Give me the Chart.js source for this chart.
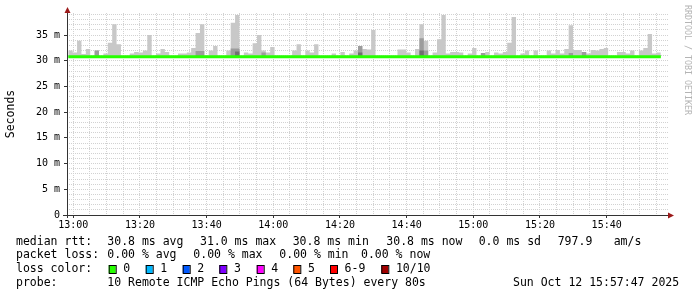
<!DOCTYPE html>
<html>
<head>
<meta charset="utf-8">
<script src="https://cdn.jsdelivr.net/npm/chart.js@4.4.0/dist/chart.umd.min.js"></script>
<style>
  html, body { margin: 0; padding: 0; background: #fff; }
</style>
</head>
<body>
<canvas id="smokeChart" width="697" height="297"></canvas>
<script>
// time window and step
const startTime = "12:58:30";
const stepSeconds = 79;
const viewFrom = "12:58:07";
const viewTo = "15:58:24";

// max ping per step (ms), light smoke
const pingMax = [
  32.0, 31.6, 33.9, 31.3, 32.3, 31.0, 32.0, 31.0, 31.4, 33.5,
  37.1, 33.2, 31.0, 31.0, 31.4, 31.7, 31.6, 32.0, 35.0, 31.0,
  31.4, 32.3, 31.7, 31.0, 31.0, 31.4, 31.4, 31.6, 32.5, 35.4,
  37.1, 31.0, 32.0, 32.9, 31.0, 31.0, 32.0, 37.4, 38.9, 31.0,
  31.6, 31.4, 33.4, 35.0, 32.0, 31.6, 32.7, 31.0, 31.0, 31.0,
  31.0, 32.0, 33.2, 31.0, 32.0, 31.6, 33.2, 31.0, 31.0, 31.0,
  31.4, 31.0, 31.7,
  31.0, 31.4, 32.0, 32.9, 32.3, 32.2, 36.0, 31.0, 31.0, 31.0,
  31.0, 31.0, 32.2, 32.2, 31.6, 31.0, 32.3, 37.1, 33.9, 31.0,
  31.6, 34.2, 38.9, 31.4, 31.7, 31.7, 31.6, 31.0, 31.4, 32.5,
  31.0, 31.4, 31.7, 31.0, 31.6, 31.4, 31.7, 33.5, 38.5, 31.0,
  31.4, 32.0, 31.0, 32.0, 31.0, 31.0, 32.0, 31.4, 32.1, 31.4,
  32.3, 36.9, 32.1, 32.1, 31.7, 31.4, 32.1, 32.0, 32.3, 32.5,
  31.0, 31.0, 31.7, 31.7, 31.4, 32.0, 31.0, 32.0, 32.5, 35.2,
  31.4, 31.6
];

// darker smoke (inner pings), null = none
const pingMid = [
  null, null, null, null, null, null, 32.0, null, null, null,
  null, null, null, null, null, null, null, null, null, null,
  null, null, null, null, null, null, null, null, null, 31.9,
  31.9, null, null, null, null, null, null, 32.4, 32.4, null,
  null, null, null, null, 31.6, null, null, null, null, null,
  null, null, null, null, null, null, null, null, null, null,
  null, null, null,
  null, null, null, 32.9, null, null, null, null, null, null,
  null, null, null, null, null, null, null, 34.4, 32.0, null,
  null, null, null, null, null, null, null, null, null, null,
  null, 31.5, null, null, null, null, null, null, null, null,
  null, null, null, null, null, null, null, null, null, null,
  null, 31.5, null, null, 31.7, null, null, null, null, null,
  null, null, null, null, null, null, null, null, null, null,
  null, null
];

// darkest smoke core
const pingCore = [
  null, null, null, null, null, null, null, null, null, null,
  null, null, null, null, null, null, null, null, null, null,
  null, null, null, null, null, null, null, null, null, null,
  null, null, null, null, null, null, null, null, 31.8, null,
  null, null, null, null, null, null, null, null, null, null,
  null, null, null, null, null, null, null, null, null, null,
  null, null, null,
  null, null, null, 31.6, null, null, null, null, null, null,
  null, null, null, null, null, null, null, 32.0, null, null,
  null, null, null, null, null, null, null, null, null, null,
  null, null, null, null, null, null, null, null, null, null,
  null, null, null, null, null, null, null, null, null, null,
  null, null, null, null, null, null, null, null, null, null,
  null, null, null, null, null, null, null, null, null, null,
  null, null
];

// median rtt (ms), loss 0 all along
const medianRtt = [
  30.8, 30.8, 30.8, 30.8, 30.8, 30.8, 30.8, 30.8, 30.8, 30.8,
  30.8, 30.8, 30.8, 30.8, 30.8, 30.8, 30.8, 30.8, 30.8, 30.8,
  30.8, 30.8, 30.8, 30.8, 30.8, 30.8, 30.8, 30.8, 30.8, 30.8,
  30.8, 30.8, 30.8, 30.8, 30.8, 30.8, 30.8, 30.8, 30.8, 30.8,
  30.8, 30.8, 30.8, 30.8, 30.8, 30.8, 30.8, 30.8, 30.8, 30.8,
  30.8, 30.8, 30.8, 30.8, 30.8, 30.8, 30.8, 30.8, 30.8, 30.8,
  30.8, 30.8, 30.8,
  30.8, 30.8, 30.8, 30.8, 30.8, 30.8, 30.8, 30.8, 30.8, 30.8,
  30.8, 30.8, 30.8, 30.8, 30.8, 30.8, 30.8, 30.8, 30.8, 30.8,
  30.8, 30.8, 30.8, 30.8, 30.8, 30.8, 30.8, 30.8, 30.8, 30.8,
  30.8, 30.8, 30.8, 30.8, 30.8, 30.8, 30.8, 30.8, 30.8, 30.8,
  30.8, 30.8, 30.8, 30.8, 30.8, 30.8, 30.8, 30.8, 30.8, 30.8,
  30.8, 30.8, 30.8, 30.8, 30.8, 30.8, 30.8, 30.8, 30.8, 30.8,
  30.8, 30.8, 30.8, 30.8, 30.8, 30.8, 30.8, 30.8, 30.8, 30.8,
  30.8, 30.8
];

const xTickLabels = ["13:00", "13:20", "13:40", "14:00", "14:20", "14:40", "15:00", "15:20", "15:40"];
const yTickLabels = ["0", "5 m", "10 m", "15 m", "20 m", "25 m", "30 m", "35 m"];
const yMax = 39.3;

const lossColors = ["#26ff00", "#00b8ff", "#0059ff", "#7e00ff", "#ff00ff", "#ff5500", "#ff0000", "#a10000"];
const lossLabels = ["0", "1", "2", "3", "4", "5", "6-9", "10/10"];

const rttStats = ["30.8 ms avg", "31.0 ms max", "30.8 ms min", "30.8 ms now", "0.0 ms sd", "797.9", "am/s"];
const lossStats = ["0.00 % avg", "0.00 % max", "0.00 % min", "0.00 % now"];
const probeText = "10 Remote ICMP Echo Pings (64 Bytes) every 80s";
const stampText = "Sun Oct 12 15:57:47 2025";

// minutes relative to 13:00
function toMin(hms) {
  const [h, m, s] = hms.split(":").map(Number);
  return (h - 13) * 60 + m + s / 60;
}

const t0 = toMin(startTime);
const stepMin = stepSeconds / 60;

function stepData(values) {
  const pts = values.map((v, i) => ({ x: t0 + i * stepMin, y: v }));
  pts.push({ x: t0 + values.length * stepMin, y: values[values.length - 1] });
  return pts;
}

const withMedian = (arr) => arr.map((v, i) => (v == null ? medianRtt[i] : v));

// grid ticks every `every` minutes from 13:00 up to the window end
function timeTicks(every) {
  const out = [];
  for (let v = 0; v <= toMin(viewTo); v += every) out.push({ value: v });
  return out;
}

const MONO = "'DejaVu Sans Mono', monospace";

function smoke(values, color) {
  return {
    data: stepData(values),
    stepped: true,
    fill: 0,
    backgroundColor: color,
    borderColor: "rgba(0,0,0,0)",
    borderWidth: 0,
    pointRadius: 0,
  };
}

// axis lines, arrows, side texts and rrdtool legend
const rrdDecor = {
  id: "rrdDecor",
  afterDraw(chart) {
    const ctx = chart.ctx;
    const a = chart.chartArea;
    ctx.save();

    ctx.strokeStyle = "#333";
    ctx.lineWidth = 1;
    ctx.beginPath();
    ctx.moveTo(a.left + 0.5, a.top - 3);
    ctx.lineTo(a.left + 0.5, a.bottom + 3);
    ctx.moveTo(a.left - 4, a.bottom + 0.5);
    ctx.lineTo(a.right + 3, a.bottom + 0.5);
    ctx.stroke();

    ctx.fillStyle = "#9c1a1a";
    ctx.beginPath();
    ctx.moveTo(a.left + 0.5, a.top - 6);
    ctx.lineTo(a.left - 2.5, a.top);
    ctx.lineTo(a.left + 3.5, a.top);
    ctx.closePath();
    ctx.fill();
    ctx.beginPath();
    ctx.moveTo(a.right + 6, a.bottom + 0.5);
    ctx.lineTo(a.right, a.bottom - 2.5);
    ctx.lineTo(a.right, a.bottom + 3.5);
    ctx.closePath();
    ctx.fill();

    // y title
    ctx.fillStyle = "#000";
    ctx.font = "11.5px " + MONO;
    ctx.textAlign = "center";
    ctx.textBaseline = "middle";
    ctx.save();
    ctx.translate(11, 114);
    ctx.rotate(-Math.PI / 2);
    ctx.fillText("Seconds", 0, 0);
    ctx.restore();

    // watermark
    ctx.save();
    ctx.fillStyle = "#b4b4b4";
    ctx.font = "8.3px " + MONO;
    ctx.translate(687, 60);
    ctx.rotate(Math.PI / 2);
    ctx.fillText("RRDTOOL / TOBI OETIKER", 0, 0);
    ctx.restore();

    // legend
    ctx.font = "11.5px " + MONO;
    ctx.textAlign = "left";
    ctx.fillStyle = "#000";
    const row1 = [["median rtt:", 16]].concat(
      rttStats.map((t, i) => [t, [107.3, 200, 292.7, 386.3, 478.7, 557.7, 613.7][i]]));
    const row2 = [["packet loss:", 16]].concat(
      lossStats.map((t, i) => [t, [107.3, 193.3, 279.3, 361][i]]));
    row1.forEach(([t, x]) => ctx.fillText(t, x, 241.7));
    row2.forEach(([t, x]) => ctx.fillText(t, x, 255.3));

    ctx.fillText("loss color:", 16, 269.3);
    const boxX = [108.7, 145.7, 182.7, 219.3, 256.7, 293.3, 330, 381.3];
    lossColors.forEach((c, i) => {
      ctx.fillStyle = c;
      ctx.fillRect(boxX[i], 265, 7, 8);
      ctx.strokeStyle = "#000";
      ctx.strokeRect(boxX[i] + 0.5, 265.5, 7, 8);
      ctx.fillStyle = "#000";
      ctx.fillText(lossLabels[i], boxX[i] + 14.6, 269.3);
    });

    ctx.fillText("probe:", 16, 283.3);
    ctx.fillText(probeText, 107.3, 283.3);
    ctx.fillText(stampText, 513, 283.3);

    ctx.restore();
  },
};

const ctx = document.getElementById("smokeChart").getContext("2d");
const smokeChart = new Chart(ctx, {
  type: "line",
  data: {
    datasets: [
      {
        label: "median",
        data: stepData(medianRtt),
        stepped: true,
        fill: false,
        borderColor: "#26ff00",
        borderWidth: 3,
        pointRadius: 0,
      },
      smoke(withMedian(pingCore), "#707070"),
      smoke(withMedian(pingMid), "#9c9c9c"),
      smoke(pingMax, "#c8c8c8"),
    ],
  },
  options: {
    responsive: false,
    animation: false,
    devicePixelRatio: 1,
    layout: { padding: { left: 0, right: 29, top: 13, bottom: 62 } },
    plugins: {
      legend: { display: false },
      tooltip: { enabled: false },
    },
    scales: {
      x: {
        type: "linear",
        position: "bottom",
        bounds: "data",
        min: toMin(viewFrom),
        max: toMin(viewTo),
        afterBuildTicks: (s) => { s.ticks = xTickLabels.map((_, i) => ({ value: i * 20 })); },
        ticks: {
          autoSkip: false,
          maxRotation: 0,
          padding: 1,
          color: "#000",
          font: { family: MONO, size: 10 },
          callback: (v) => xTickLabels[Math.round(v / 20)] || "",
        },
        grid: { color: "#eba0a0", tickColor: "#333", tickLength: 3 },
        border: { display: false, dash: [1, 1] },
        afterFit: (s) => { s.height = 20; },
      },
      xMinor: {
        type: "linear",
        position: "bottom",
        bounds: "data",
        z: -1,
        min: toMin(viewFrom),
        max: toMin(viewTo),
        afterBuildTicks: (s) => { s.ticks = timeTicks(5); },
        ticks: { display: false },
        grid: { color: "#d2d2d2", drawTicks: false },
        border: { display: false, dash: [1, 1] },
        afterFit: (s) => { s.height = 0; },
      },
      y: {
        type: "linear",
        position: "left",
        min: 0,
        max: yMax,
        ticks: {
          stepSize: 5,
          includeBounds: false,
          padding: 4,
          color: "#000",
          font: { family: MONO, size: 10 },
          callback: (v) => yTickLabels[Math.round(v / 5)] || "",
        },
        grid: { color: "#eba0a0", tickColor: "#333", tickLength: 3 },
        border: { display: false, dash: [1, 1] },
        afterFit: (s) => { s.width = 67; },
      },
      yMinor: {
        type: "linear",
        position: "left",
        z: -1,
        min: 0,
        max: yMax,
        ticks: { display: false, stepSize: 1, includeBounds: false },
        grid: { color: "#d2d2d2", drawTicks: false },
        border: { display: false, dash: [1, 1] },
        afterFit: (s) => { s.width = 0; },
      },
    },
  },
  plugins: [rrdDecor],
});
</script>
</body>
</html>
